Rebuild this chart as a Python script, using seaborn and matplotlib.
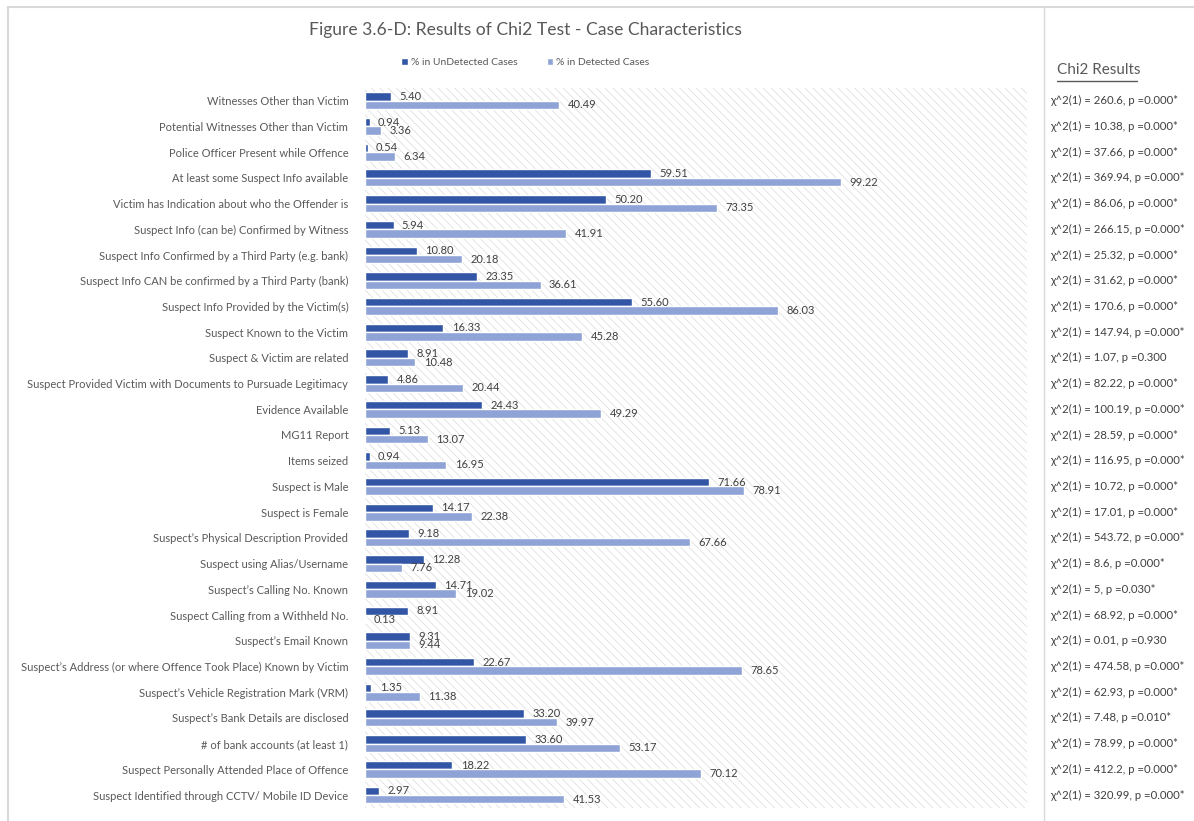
import matplotlib
matplotlib.use("Agg")
import matplotlib.pyplot as plt
import matplotlib.transforms as mtransforms
from matplotlib.patches import Rectangle
from matplotlib.lines import Line2D
import seaborn as sns
import pandas as pd

# ---- data -------------------------------------------------------------
features = [
    "Witnesses Other than Victim",
    "Potential Witnesses Other than Victim",
    "Police Officer Present while Offence",
    "At least some Suspect Info available",
    "Victim has Indication about who the Offender is",
    "Suspect Info (can be) Confirmed by Witness",
    "Suspect Info Confirmed by a Third Party (e.g. bank)",
    "Suspect Info CAN be confirmed by a Third Party (bank)",
    "Suspect Info Provided by the Victim(s)",
    "Suspect Known to the Victim",
    "Suspect & Victim are related",
    "Suspect Provided Victim with Documents to Pursuade Legitimacy",
    "Evidence Available",
    "MG11 Report",
    "Items seized",
    "Suspect is Male",
    "Suspect is Female",
    "Suspect\u2019s Physical Description Provided",
    "Suspect using Alias/Username",
    "Suspect\u2019s Calling No. Known",
    "Suspect Calling from a Withheld No.",
    "Suspect\u2019s Email Known",
    "Suspect\u2019s Address (or where Offence Took Place) Known by Victim",
    "Suspect\u2019s Vehicle Registration Mark (VRM)",
    "Suspect\u2019s Bank Details are disclosed",
    "# of bank accounts (at least 1)",
    "Suspect Personally Attended Place of Offence",
    "Suspect Identified through CCTV/ Mobile ID Device",
]

undetected = [5.40, 0.94, 0.54, 59.51, 50.20, 5.94, 10.80, 23.35, 55.60, 16.33,
              8.91, 4.86, 24.43, 5.13, 0.94, 71.66, 14.17, 9.18, 12.28, 14.71,
              8.91, 9.31, 22.67, 1.35, 33.20, 33.60, 18.22, 2.97]

detected = [40.49, 3.36, 6.34, 99.22, 73.35, 41.91, 20.18, 36.61, 86.03, 45.28,
            10.48, 20.44, 49.29, 13.07, 16.95, 78.91, 22.38, 67.66, 7.76, 19.02,
            0.13, 9.44, 78.65, 11.38, 39.97, 53.17, 70.12, 41.53]

chi2_results = [
    "\u03c7^2(1) = 260.6, p =0.000*",
    "\u03c7^2(1) = 10.38, p =0.000*",
    "\u03c7^2(1) = 37.66, p =0.000*",
    "\u03c7^2(1) = 369.94, p =0.000*",
    "\u03c7^2(1) = 86.06, p =0.000*",
    "\u03c7^2(1) = 266.15, p =0.000*",
    "\u03c7^2(1) = 25.32, p =0.000*",
    "\u03c7^2(1) = 31.62, p =0.000*",
    "\u03c7^2(1) = 170.6, p =0.000*",
    "\u03c7^2(1) = 147.94, p =0.000*",
    "\u03c7^2(1) = 1.07, p =0.300",
    "\u03c7^2(1) = 82.22, p =0.000*",
    "\u03c7^2(1) = 100.19, p =0.000*",
    "\u03c7^2(1) = 28.59, p =0.000*",
    "\u03c7^2(1) = 116.95, p =0.000*",
    "\u03c7^2(1) = 10.72, p =0.000*",
    "\u03c7^2(1) = 17.01, p =0.000*",
    "\u03c7^2(1) = 543.72, p =0.000*",
    "\u03c7^2(1) = 8.6, p =0.000*",
    "\u03c7^2(1) = 5, p =0.030*",
    "\u03c7^2(1) = 68.92, p =0.000*",
    "\u03c7^2(1) = 0.01, p =0.930",
    "\u03c7^2(1) = 474.58, p =0.000*",
    "\u03c7^2(1) = 62.93, p =0.000*",
    "\u03c7^2(1) = 7.48, p =0.010*",
    "\u03c7^2(1) = 78.99, p =0.000*",
    "\u03c7^2(1) = 412.2, p =0.000*",
    "\u03c7^2(1) = 320.99, p =0.000*",
]

series_names = ["% in UnDetected Cases", "% in Detected Cases"]

# long-format table for seaborn
df = pd.DataFrame({
    "feature": features * 2,
    "pct": undetected + detected,
    "series": [series_names[0]] * len(features) + [series_names[1]] * len(features),
})

# ---- style ------------------------------------------------------------
sns.set_theme(style="white")
plt.rcParams["font.family"] = ["Lato", "DejaVu Sans"]
plt.rcParams["hatch.linewidth"] = 0.5

DARK = "#3256A5"
LIGHT = "#8FA3D6"
TEXT = "#595959"
VALUE = "#404040"
FRAME = "#D9D9D9"

fig = plt.figure(figsize=(11.94, 8.21), dpi=100)
ax = fig.add_axes([0.3057, 0.016, 0.5545, 0.877])

# hatched plotting area
ax.add_patch(Rectangle((0, 0), 1, 1, transform=ax.transAxes, facecolor="white",
                       edgecolor="#DADADA", hatch="\\\\\\\\", lw=0, zorder=0))

sns.barplot(data=df, y="feature", x="pct", hue="series", orient="h",
            palette=[DARK, LIGHT], width=0.66, gap=0, ax=ax,
            legend=False, zorder=2, saturation=1)

for cont in ax.containers:
    ax.bar_label(cont, fmt="%.2f", padding=6, fontsize=8, color=VALUE)

ax.set_xlim(0, 138)
ax.set_ylim(len(features) - 0.5, -0.5)
ax.set_xlabel("")
ax.set_ylabel("")
ax.set_xticks([])
ax.tick_params(axis="y", length=0, pad=12, labelsize=8, labelcolor=TEXT)
for s in ax.spines.values():
    s.set_visible(False)

# title and legend
fig.text(0.44, 0.963, "Figure 3.6-D: Results of Chi2 Test - Case Characteristics",
         ha="center", va="center", fontsize=12.6, color=TEXT)
handles = [Rectangle((0, 0), 1, 1, facecolor=DARK), Rectangle((0, 0), 1, 1, facecolor=LIGHT)]
fig.legend(handles, series_names, loc="center", bbox_to_anchor=(0.44, 0.924), ncol=2,
           frameon=False, fontsize=7.5, handlelength=0.6, handleheight=0.6,
           handletextpad=0.3, columnspacing=2.8, labelcolor=TEXT)

# frame around the chart and divider for the results column
fig.add_artist(Line2D([0.007, 0.007], [0.0, 0.992], transform=fig.transFigure,
                      color=FRAME, lw=1.5))
fig.add_artist(Line2D([0.007, 1.0], [0.992, 0.992], transform=fig.transFigure,
                      color=FRAME, lw=1.5))
fig.add_artist(Line2D([0.874, 0.874], [0.0, 0.992], transform=fig.transFigure,
                      color=FRAME, lw=1.0))

# chi-square results column, aligned with the bar rows
fig.text(0.8855, 0.915, "Chi2 Results", ha="left", va="center", fontsize=11,
         color=TEXT)
fig.add_artist(Line2D([0.8855, 0.952], [0.901, 0.901], transform=fig.transFigure,
                      color=TEXT, lw=1.0))
trans = mtransforms.blended_transform_factory(fig.transFigure, ax.transData)
for i, txt in enumerate(chi2_results):
    fig.text(0.8795, i, txt, transform=trans, ha="left", va="center",
             fontsize=8.2, color=VALUE)

fig.savefig("out.png", dpi=100, facecolor="white")
